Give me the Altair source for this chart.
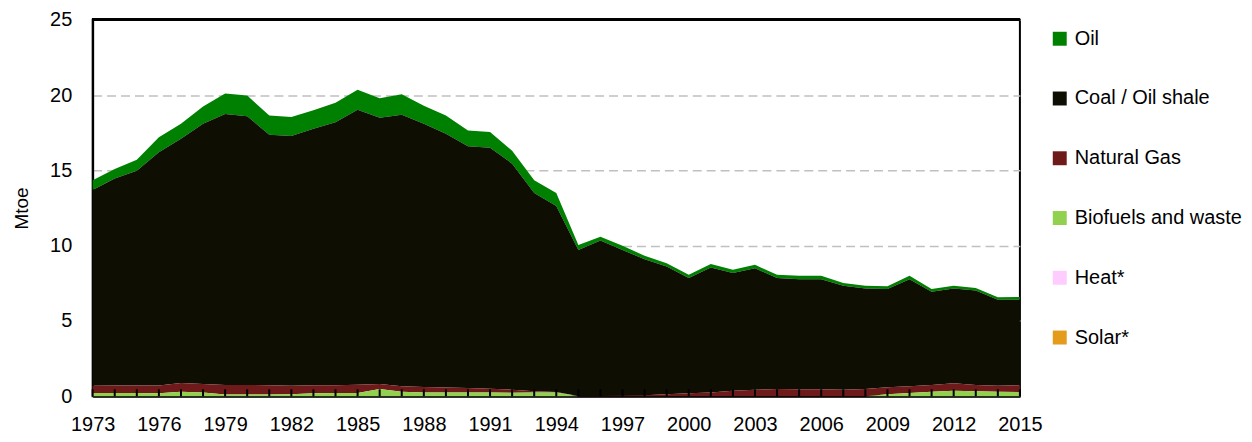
import altair as alt
import pandas as pd

years = list(range(1973, 2016))

oil = [0.65, 0.64, 0.73, 1.0, 1.0, 1.15, 1.35, 1.37, 1.28, 1.27,
       1.23, 1.3, 1.32, 1.3, 1.35, 1.2, 1.21, 1.05, 1.05, 0.85,
       0.85, 0.87, 0.33, 0.26, 0.27, 0.23, 0.22, 0.22, 0.23, 0.22,
       0.22, 0.22, 0.22, 0.22, 0.18, 0.18, 0.18, 0.22, 0.18, 0.18,
       0.16, 0.16, 0.18]
coal = [13.0, 13.74, 14.25, 15.48, 16.22, 17.28, 18.0, 17.85, 16.63, 16.58,
        17.04, 17.47, 18.26, 17.69, 18.04, 17.48, 16.86, 16.05, 16.0, 15.01,
        13.17, 12.34, 9.70, 10.32, 9.68, 9.03, 8.49, 7.65, 8.29, 7.81,
        8.07, 7.37, 7.32, 7.32, 6.9, 6.68, 6.52, 7.12, 6.19, 6.3,
        6.28, 5.71, 5.68]
gas = [0.48, 0.50, 0.50, 0.52, 0.58, 0.57, 0.63, 0.63, 0.62, 0.57,
       0.53, 0.51, 0.55, 0.33, 0.36, 0.36, 0.32, 0.29, 0.24, 0.20,
       0.07, 0.03, 0.02, 0.02, 0.04, 0.07, 0.13, 0.2, 0.26, 0.37,
       0.44, 0.48, 0.46, 0.46, 0.44, 0.48, 0.47, 0.44, 0.45, 0.49,
       0.42, 0.40, 0.44]
bio = [0.22, 0.22, 0.22, 0.2, 0.3, 0.25, 0.12, 0.12, 0.12, 0.13,
       0.2, 0.22, 0.22, 0.48, 0.3, 0.26, 0.26, 0.26, 0.26, 0.24,
       0.26, 0.26, 0, 0, 0, 0, 0, 0, 0, 0,
       0, 0, 0, 0, 0, 0, 0.13, 0.22, 0.3, 0.37,
       0.33, 0.3, 0.29]
heat = [0, 0, 0, 0, 0, 0, 0, 0, 0, 0,
        0, 0, 0, 0, 0, 0, 0, 0, 0, 0,
        0, 0, 0, 0, 0, 0, 0, 0, 0, 0,
        0, 0, 0, 0, 0, 0, 0, 0, 0, 0,
        0, 0, 0]
solar = [0, 0, 0, 0, 0, 0, 0, 0, 0, 0,
         0, 0, 0, 0, 0, 0, 0, 0, 0, 0,
         0, 0, 0, 0, 0, 0, 0, 0, 0, 0,
         0, 0, 0, 0, 0, 0, 0, 0, 0, 0,
         0, 0, 0]

series_names = ["Oil", "Coal / Oil shale", "Natural Gas", "Biofuels and waste", "Heat*", "Solar*"]
series_values = [oil, coal, gas, bio, heat, solar]
series_colors = ["#008000", "#0e0e03", "#6e1a1a", "#92d050", "#ffccff", "#e39c1c"]
year_labels = [1973, 1976, 1979, 1982, 1985, 1988, 1991, 1994, 1997, 2000, 2003, 2006, 2009, 2012, 2015]
y_ticks = [0, 5, 10, 15, 20, 25]

rows = []
for i, (name, vals) in enumerate(zip(series_names, series_values)):
    for y, v in zip(years, vals):
        rows.append({"year": y, "source": name, "value": v, "ord": len(series_names) - i})
df = pd.DataFrame(rows)
tick_df = pd.DataFrame({"year": years})

FONT = "Liberation Sans, Arial, sans-serif"
W, H = 931, 378

xscale = alt.Scale(domain=[1973, 2015], nice=False, zero=False)
yscale = alt.Scale(domain=[0, 25], nice=False)

areas = alt.Chart(df).mark_area(interpolate="linear").encode(
    x=alt.X("year:Q", scale=xscale,
            axis=alt.Axis(values=year_labels, format="d", title=None, ticks=False, tickSize=0,
                          grid=False, labelFlush=False, labelOverlap=False,
                          labelFontSize=20, labelFont=FONT, labelColor="#000000",
                          labelPadding=18, domainColor="#000000", domainWidth=2)),
    y=alt.Y("value:Q", stack="zero", scale=yscale,
            axis=alt.Axis(values=y_ticks, title="Mtoe", ticks=False, tickSize=0,
                          grid=True, labelFlush=False,
                          labelFontSize=20, labelFont=FONT, labelColor="#000000",
                          labelPadding=21, domainColor="#000000", domainWidth=2,
                          gridColor="#c0c0c0", gridDash=[9, 5], gridWidth=1.5,
                          titleFont=FONT, titleFontSize=19, titleFontWeight="normal",
                          titleColor="#000000", titleAngle=-90, titleX=-71, titleY=189,
                          titleAlign="center", titleBaseline="middle")),
    color=alt.Color("source:N",
                    scale=alt.Scale(domain=series_names, range=series_colors),
                    legend=alt.Legend(title=None, orient="none", legendX=961, legendY=9,
                                      symbolType="square", symbolSize=196, symbolStrokeWidth=0,
                                      labelFontSize=20, labelFont=FONT, labelColor="#000000",
                                      rowPadding=40, labelOffset=5, labelLimit=300)),
    order=alt.Order("ord:Q", sort="ascending"),
)

ticks = alt.Chart(tick_df).mark_rule(color="#000000", strokeWidth=2).encode(
    x=alt.X("year:Q", scale=xscale),
    y=alt.value(H),
    y2=alt.value(H - 7),
)

top_border = alt.Chart(tick_df).mark_rule(color="#000000", strokeWidth=2).encode(
    x=alt.value(0), x2=alt.value(W), y=alt.value(0),
)

chart = alt.layer(areas, ticks, top_border).properties(
    width=W, height=H,
    padding={"left": 85, "top": 11, "right": 225, "bottom": 40},
    autosize=alt.AutoSizeParams(type="none"),
    background="#ffffff",
).configure_view(stroke="#000000", strokeWidth=2)

chart.save("out.html", embed_options={"renderer": "svg", "actions": False})
